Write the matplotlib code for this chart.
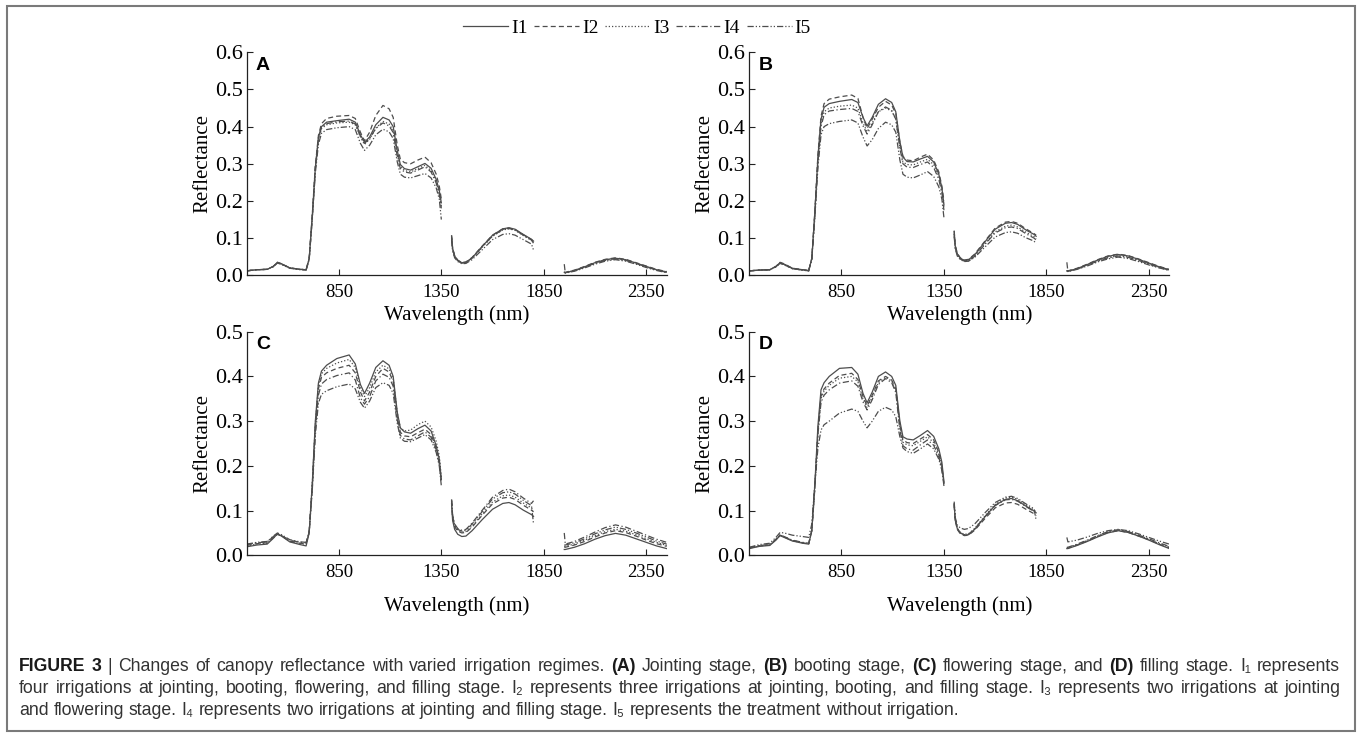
import numpy as np
import matplotlib
matplotlib.use("Agg")
import matplotlib.pyplot as plt
from matplotlib import font_manager
from matplotlib.lines import Line2D
from matplotlib.patches import Rectangle
from matplotlib.ticker import FormatStrFormatter

# --- data (reflectance in thousandths) ---
SERIES = ["I1", "I2", "I3", "I4", "I5"]
PANELS = ["A", "B", "C", "D"]
XTICKS = [850, 1350, 1850, 2350]

W1 = [400, 450, 500, 530, 550, 570, 610, 660, 690, 705, 720, 735, 750, 765, 790, 840, 900, 930,
      955, 975, 1000, 1030, 1065, 1095, 1115, 1135, 1150, 1170, 1200, 1235, 1270, 1300, 1325, 1340, 1350]
W2 = [1400, 1405, 1415, 1430, 1450, 1470, 1500, 1550, 1600, 1650, 1680, 1710, 1750, 1790, 1800]
W3 = [1950, 1955, 2000, 2050, 2100, 2150, 2200, 2250, 2300, 2350, 2400, 2450]

A_VNIR = [
    [12, 15, 16, 24, 35, 31, 20, 16, 15, 45, 160, 290, 370, 400, 412, 416, 420, 412, 378, 358, 372, 405, 425, 418, 400, 335, 298, 287, 283, 292, 301, 288, 258, 228, 195],
    [12, 15, 16, 24, 35, 31, 20, 16, 15, 46, 162, 295, 376, 408, 422, 428, 430, 422, 385, 362, 385, 430, 457, 448, 425, 350, 312, 303, 300, 310, 318, 303, 272, 240, 205],
    [12, 15, 16, 24, 34, 30, 20, 16, 15, 44, 155, 285, 365, 395, 405, 410, 412, 405, 372, 352, 366, 396, 414, 407, 390, 325, 292, 282, 278, 287, 296, 282, 252, 222, 185],
    [12, 15, 16, 24, 34, 30, 20, 16, 15, 44, 156, 288, 368, 398, 408, 413, 415, 407, 374, 355, 368, 395, 410, 402, 384, 320, 287, 278, 275, 283, 292, 278, 248, 218, 180],
    [12, 15, 16, 23, 33, 29, 19, 15, 14, 42, 150, 275, 352, 382, 392, 397, 400, 392, 355, 336, 350, 378, 393, 386, 368, 305, 272, 264, 262, 268, 274, 262, 235, 205, 150],
]
B_VNIR = [
    [12, 14, 15, 24, 34, 30, 19, 15, 13, 45, 170, 320, 420, 452, 462, 468, 473, 465, 425, 402, 425, 460, 475, 465, 440, 360, 318, 306, 305, 313, 320, 305, 272, 235, 190],
    [12, 14, 15, 24, 35, 31, 19, 15, 13, 46, 172, 325, 428, 462, 474, 480, 485, 476, 425, 395, 420, 452, 468, 458, 435, 358, 320, 310, 308, 318, 326, 310, 278, 240, 200],
    [12, 14, 15, 23, 33, 29, 18, 14, 12, 44, 165, 310, 408, 440, 450, 455, 458, 450, 410, 386, 410, 440, 450, 442, 420, 345, 305, 298, 297, 305, 312, 298, 266, 230, 185],
    [12, 14, 15, 23, 33, 29, 18, 14, 12, 44, 163, 305, 400, 432, 442, 446, 449, 441, 402, 380, 405, 440, 453, 444, 420, 342, 300, 291, 290, 298, 305, 290, 258, 222, 175],
    [12, 14, 15, 23, 32, 28, 18, 14, 12, 42, 155, 290, 378, 400, 408, 414, 418, 410, 372, 348, 365, 395, 412, 405, 385, 310, 272, 264, 262, 270, 279, 266, 238, 205, 155],
]
C_VNIR = [
    [19, 23, 25, 38, 48, 43, 30, 24, 21, 50, 160, 300, 385, 412, 425, 440, 448, 428, 382, 362, 385, 420, 435, 425, 400, 320, 285, 276, 273, 283, 291, 278, 245, 215, 170],
    [22, 26, 28, 40, 47, 43, 32, 27, 26, 52, 155, 290, 372, 398, 408, 418, 425, 408, 365, 345, 365, 400, 418, 410, 388, 310, 275, 267, 265, 274, 282, 270, 240, 210, 160],
    [21, 25, 27, 39, 47, 43, 31, 26, 25, 51, 158, 295, 380, 406, 418, 430, 438, 420, 375, 355, 375, 410, 425, 417, 395, 318, 285, 278, 280, 292, 300, 287, 255, 222, 175],
    [24, 28, 30, 42, 48, 44, 34, 29, 28, 53, 150, 280, 358, 383, 393, 402, 408, 392, 352, 338, 355, 390, 405, 398, 378, 302, 268, 260, 258, 267, 276, 264, 236, 205, 165],
    [25, 29, 31, 43, 50, 46, 35, 30, 29, 54, 145, 268, 340, 360, 368, 377, 383, 372, 342, 329, 345, 375, 386, 380, 362, 295, 262, 255, 254, 262, 270, 258, 230, 200, 155],
]
D_VNIR = [
    [15, 20, 22, 34, 44, 40, 32, 27, 25, 55, 160, 290, 370, 386, 400, 418, 420, 405, 362, 341, 365, 400, 410, 400, 380, 300, 265, 260, 258, 268, 279, 266, 238, 208, 165],
    [16, 21, 23, 35, 45, 41, 33, 28, 26, 55, 155, 280, 356, 372, 385, 402, 407, 393, 355, 334, 358, 390, 400, 392, 372, 292, 258, 252, 250, 260, 270, 258, 230, 200, 160],
    [16, 21, 23, 35, 45, 41, 33, 28, 26, 54, 152, 276, 350, 367, 380, 396, 400, 388, 350, 330, 354, 386, 398, 390, 368, 287, 253, 247, 245, 255, 265, 252, 225, 196, 158],
    [17, 22, 24, 36, 46, 42, 34, 29, 27, 55, 150, 270, 342, 358, 370, 385, 390, 378, 343, 325, 348, 382, 395, 386, 364, 280, 245, 238, 235, 247, 258, 246, 220, 192, 155],
    [18, 24, 27, 40, 51, 50, 45, 42, 40, 70, 160, 240, 280, 292, 300, 318, 327, 322, 300, 285, 300, 322, 331, 325, 310, 265, 240, 232, 228, 238, 249, 238, 215, 190, 160],
]

A_SWIR1 = [
    [105, 72, 52, 40, 34, 35, 47, 78, 108, 125, 128, 124, 110, 97, 92],
    [108, 74, 53, 41, 34, 36, 48, 79, 108, 125, 127, 123, 109, 96, 90],
    [100, 70, 50, 39, 33, 34, 46, 76, 105, 122, 125, 121, 107, 94, 88],
    [102, 71, 51, 39, 33, 35, 46, 77, 106, 123, 126, 122, 108, 95, 86],
    [95, 66, 47, 37, 31, 32, 42, 69, 96, 110, 112, 108, 96, 84, 68],
]
B_SWIR1 = [
    [118, 80, 58, 46, 40, 42, 55, 90, 124, 140, 142, 137, 122, 110, 105],
    [120, 82, 59, 47, 41, 43, 57, 92, 127, 143, 145, 140, 125, 112, 108],
    [112, 77, 56, 45, 39, 40, 52, 85, 117, 132, 135, 130, 116, 104, 98],
    [110, 76, 55, 44, 38, 39, 51, 83, 114, 128, 130, 126, 112, 100, 95],
    [105, 72, 52, 42, 37, 38, 48, 76, 103, 115, 117, 113, 101, 92, 85],
]
C_SWIR1 = [
    [115, 78, 58, 47, 42, 43, 55, 80, 103, 116, 118, 113, 101, 91, 87],
    [120, 84, 64, 54, 50, 51, 63, 90, 115, 128, 130, 125, 112, 101, 97],
    [122, 86, 66, 56, 52, 53, 66, 93, 119, 133, 135, 130, 117, 106, 100],
    [125, 90, 70, 60, 56, 58, 72, 101, 130, 145, 148, 142, 128, 116, 122],
    [124, 88, 68, 58, 54, 56, 70, 98, 126, 140, 142, 137, 123, 111, 70],
]
D_SWIR1 = [
    [115, 80, 60, 50, 45, 46, 58, 86, 112, 125, 127, 122, 110, 99, 95],
    [112, 78, 58, 48, 44, 45, 56, 82, 106, 117, 118, 114, 103, 93, 88],
    [116, 81, 61, 51, 47, 48, 60, 88, 114, 128, 130, 125, 112, 101, 97],
    [114, 80, 60, 50, 46, 47, 59, 86, 111, 124, 125, 121, 109, 98, 94],
    [120, 85, 68, 61, 58, 60, 70, 95, 118, 130, 132, 127, 115, 104, 78],
]

A_SWIR2 = [
    [8, 7, 13, 23, 34, 42, 46, 42, 33, 24, 15, 9],
    [9, 8, 14, 24, 35, 43, 47, 43, 34, 25, 16, 10],
    [8, 7, 13, 22, 33, 41, 45, 41, 32, 23, 15, 9],
    [8, 7, 12, 22, 32, 40, 44, 40, 32, 23, 14, 8],
    [30, 6, 11, 20, 30, 38, 42, 38, 30, 21, 13, 7],
]
B_SWIR2 = [
    [12, 11, 18, 29, 41, 51, 56, 52, 43, 33, 23, 15],
    [13, 12, 19, 30, 42, 52, 57, 53, 44, 34, 24, 16],
    [12, 11, 17, 28, 39, 48, 53, 49, 41, 31, 22, 14],
    [12, 11, 17, 27, 38, 47, 52, 48, 40, 30, 21, 14],
    [35, 10, 16, 25, 36, 44, 49, 45, 37, 28, 20, 13],
]
C_SWIR2 = [
    [13, 13, 18, 26, 36, 44, 49, 45, 37, 29, 21, 15],
    [18, 18, 23, 31, 41, 50, 55, 51, 43, 34, 26, 20],
    [20, 20, 25, 34, 44, 53, 58, 54, 46, 37, 29, 22],
    [50, 25, 31, 41, 52, 62, 68, 63, 54, 45, 36, 29],
    [23, 23, 28, 37, 48, 57, 63, 58, 50, 41, 32, 25],
]
D_SWIR2 = [
    [15, 15, 22, 31, 41, 50, 55, 51, 43, 34, 24, 15],
    [16, 16, 23, 32, 42, 51, 55, 51, 43, 35, 25, 17],
    [17, 17, 24, 33, 43, 52, 57, 53, 45, 36, 26, 18],
    [18, 18, 25, 34, 44, 53, 57, 53, 45, 37, 28, 20],
    [40, 30, 34, 41, 49, 55, 58, 55, 48, 40, 32, 25],
]

YMAX = [0.6, 0.6, 0.5, 0.5]

CAPTION = [
    "FIGURE 3 | Changes of canopy reflectance with varied irrigation regimes. (A) Jointing stage, (B) booting stage, "
    "(C) flowering stage, and (D) filling stage. I\u2081 represents",
    "four irrigations at jointing, booting, flowering, and filling stage. I\u2082 represents three irrigations at "
    "jointing, booting, and filling stage. I\u2083 represents two irrigations at jointing",
    "and flowering stage. I\u2084 represents two irrigations at jointing and filling stage. I\u2085 represents the "
    "treatment without irrigation.",
]
BOLD_WORDS = {"FIGURE", "3", "(A)", "(B)", "(C)", "(D)"}

# --- style ---
W, H = 1358, 734
LINE_COLOR = "#4d4d4d"
STYLES = ["-", (0, (4, 2.5)), (0, (1, 1.6)), (0, (5, 2, 1, 2)), (0, (5, 1.6, 1, 1.6, 1, 1.6))]

plt.rcParams["font.family"] = "Liberation Serif"
fig = plt.figure(figsize=(W / 100, H / 100), dpi=100)


def px_box(left, top, right, bottom):
    return [left / W, 1 - bottom / H, (right - left) / W, (bottom - top) / H]


boxes = [px_box(246.7, 52.3, 666.7, 275.3), px_box(749.3, 52.3, 1169.3, 275.3),
         px_box(246.7, 331.7, 666.7, 555.3), px_box(749.3, 331.7, 1169.3, 555.3)]
vnir = [A_VNIR, B_VNIR, C_VNIR, D_VNIR]
swir1 = [A_SWIR1, B_SWIR1, C_SWIR1, D_SWIR1]
swir2 = [A_SWIR2, B_SWIR2, C_SWIR2, D_SWIR2]

for k, letter in enumerate(PANELS):
    ax = fig.add_axes(boxes[k])
    for i in range(len(SERIES)):
        for wl, vals in ((W1, vnir[k][i]), (W2, swir1[k][i]), (W3, swir2[k][i])):
            ax.plot(wl, np.array(vals) / 1000.0, color=LINE_COLOR, lw=0.9, linestyle=STYLES[i])
    ax.set_xlim(400, 2450)
    ax.set_ylim(0, YMAX[k])
    ax.set_xticks(XTICKS)
    ax.set_yticks(np.round(np.arange(0, YMAX[k] + 0.01, 0.1), 1))
    ax.yaxis.set_major_formatter(FormatStrFormatter("%.1f"))
    for s in ("top", "right"):
        ax.spines[s].set_visible(False)
    for s in ("left", "bottom"):
        ax.spines[s].set_linewidth(0.9)
        ax.spines[s].set_color("#222222")
    ax.tick_params(direction="in", length=4, width=0.8, color="#222222")
    ax.tick_params(axis="x", labelsize=13.5, pad=6)
    ax.tick_params(axis="y", labelsize=16, pad=3)
    ax.set_xlabel("Wavelength (nm)", fontsize=15)
    ax.set_ylabel("Reflectance", fontsize=15)
    ax.yaxis.set_label_coords(-0.082, 0.5)
    ax.xaxis.set_label_coords(0.5, -0.135 if k < 2 else -0.182)
    ax.text(0.022, 0.943, letter, transform=ax.transAxes, family="Liberation Sans",
            fontweight="bold", fontsize=14, va="center", ha="left")

handles = [Line2D([], [], color=LINE_COLOR, lw=0.9, linestyle=s) for s in STYLES]
fig.legend(handles, SERIES, loc="center", bbox_to_anchor=(637 / W, 1 - 28 / H), ncol=5,
           frameon=False, fontsize=14, handlelength=2.3, handletextpad=0.15,
           columnspacing=0.35, borderpad=0, borderaxespad=0)

# outer frame
fig.add_artist(Rectangle((7 / W, 3 / H), (1355 - 7) / W, (731 - 6) / H, transform=fig.transFigure,
                         fill=False, edgecolor="#7a7a7a", lw=1.5))

# caption
names = {f.name for f in font_manager.fontManager.ttflist}
cap_family = ["Liberation Sans Narrow", "DejaVu Sans"] if "Liberation Sans Narrow" in names \
    else ["Liberation Sans", "DejaVu Sans"]
renderer = fig.canvas.get_renderer()


def text_width(s, size, bold):
    t = fig.text(0, 0, s, fontsize=size, family=cap_family, fontweight="bold" if bold else "normal")
    w = t.get_window_extent(renderer).width
    t.remove()
    return w


def natural_width(line, size):
    words = line.split(" ")
    sp = text_width("a a", size, False) - text_width("aa", size, False)
    return sum(text_width(w, size, w in BOLD_WORDS) for w in words) + sp * (len(words) - 1)


X0, X1 = 19, 1340
base = 10.0
widest = max(natural_width(CAPTION[0], base), natural_width(CAPTION[1], base))
cap_size = base * (X1 - X0) * 0.985 / widest
space = text_width("a a", cap_size, False) - text_width("aa", cap_size, False)

for j, (line, y_px) in enumerate(zip(CAPTION, [671, 693, 715])):
    words = line.split(" ")
    widths = [text_width(w, cap_size, w in BOLD_WORDS) for w in words]
    gap = (X1 - X0 - sum(widths)) / (len(words) - 1) if j < 2 else space
    x = X0
    for w, wd in zip(words, widths):
        bold = w in BOLD_WORDS
        fig.text(x / W, 1 - y_px / H, w, fontsize=cap_size, family=cap_family,
                 fontweight="bold" if bold else "normal",
                 color="#1a1a1a" if bold else "#333333", va="baseline", ha="left")
        x += wd + gap

fig.savefig("out.png", dpi=100)
